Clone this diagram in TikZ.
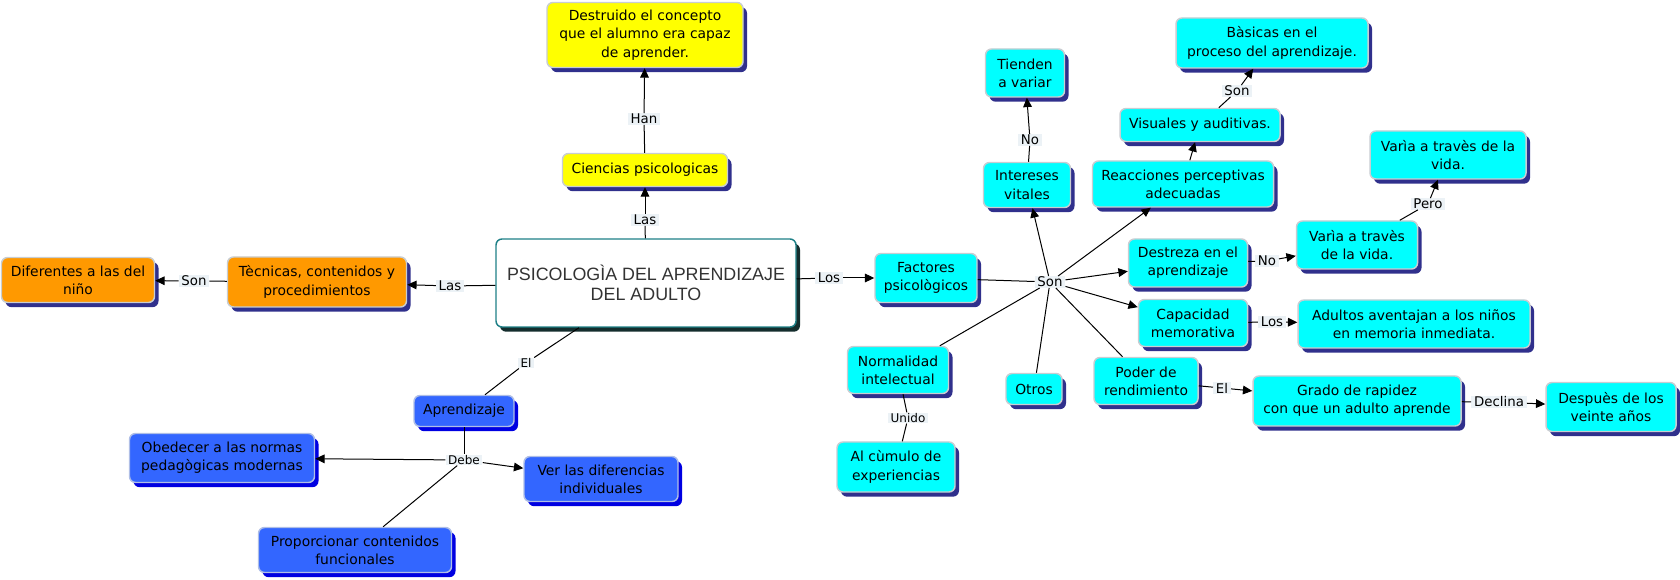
\documentclass[tikz,border=0pt]{standalone}
\usepackage{fontspec}
\newfontfamily\dvs{DejaVu Sans}
\newfontfamily\lib{Liberation Sans}
\usetikzlibrary{shadows,arrows.meta}
\definecolor{cyel}{RGB}{255,255,0}
\definecolor{corg}{RGB}{255,153,0}
\definecolor{cblu}{RGB}{51,102,255}
\definecolor{ccya}{RGB}{0,255,255}
\definecolor{cnavy}{RGB}{48,48,140}
\definecolor{cdblue}{RGB}{0,0,225}
\definecolor{cteal}{RGB}{30,128,135}
\definecolor{cdteal}{RGB}{20,45,45}
\definecolor{cbord}{RGB}{200,205,210}
\definecolor{cbordb}{RGB}{175,190,230}
\definecolor{clab}{RGB}{236,242,246}
\definecolor{ctxt}{RGB}{51,51,51}
\tikzset{
	box/.style={rectangle,rounded corners=4.5pt,line width=1.1pt,draw=cbord,align=center,inner sep=2pt,
		font=\dvs\fontsize{10.4}{13.7}\selectfont,
		drop shadow={shadow xshift=3pt,shadow yshift=-3.5pt,fill=#1,opacity=1}},
	box/.default=cnavy,
	ybox/.style={box,fill=cyel},
	obox/.style={box,fill=corg},
	bbox/.style={box=cdblue,fill=cblu,draw=cbordb},
	cbox/.style={box,fill=ccya},
	mainbox/.style={box=cdteal,fill=white,draw=cteal,text=ctxt,font=\lib\fontsize{13.4}{14.8}\selectfont},
	lab/.style={fill=clab,inner xsep=2pt,inner ysep=0.5pt,font=\dvs\fontsize{10}{12}\selectfont},
	slab/.style={lab,font=\dvs\fontsize{9}{11}\selectfont},
	sz/.style 2 args={minimum width=#1*0.75pt,minimum height=#2*0.75pt},
	>={Triangle[length=7pt,width=6.5pt]}
}
\begin{document}
\begin{tikzpicture}[x=0.75pt,y=-0.75pt,every edge/.style={draw,line width=0.75pt}]
		\useasboundingbox (0,0) rectangle (1680,580);
		% conceptos
		\node[mainbox,sz={300}{88}] (A) at (646,283) {PSICOLOGÌA DEL APRENDIZAJE\\DEL ADULTO};
		\node[ybox,sz={165}{33}] (B) at (645,170) {Ciencias psicologicas};
		\node[ybox,sz={196}{65}] (C) at (645,35) {Destruido el concepto\\que el alumno era capaz\\de aprender.};
		\node[obox,sz={179}{50}] (D) at (317,282) {Tècnicas, contenidos y\\procedimientos};
		\node[obox,sz={153}{45}] (E) at (78,280) {Diferentes a las del\\niño};
		\node[bbox,sz={100}{31}] (F) at (464,411) {Aprendizaje};
		\node[bbox,sz={185}{49}] (G) at (222,458) {Obedecer a las normas\\pedagògicas modernas};
		\node[bbox,sz={154}{45}] (H) at (601,479) {Ver las diferencias\\individuales};
		\node[bbox,sz={193}{45}] (I) at (355,550) {Proporcionar contenidos\\funcionales};
		\node[cbox,sz={102}{49}] (J) at (926,278) {Factores\\psicològicos};
		\node[cbox,sz={87}{45}] (K) at (1027,185) {Intereses\\vitales};
		\node[cbox,sz={79}{48}] (L) at (1025,73) {Tienden\\a variar};
		\node[cbox,sz={181}{46}] (M) at (1183,184) {Reacciones perceptivas\\adecuadas};
		\node[cbox,sz={160}{33}] (N) at (1200,125) {Visuales y auditivas.};
		\node[cbox,sz={192}{50}] (O) at (1272,43) {Bàsicas en el\\proceso del aprendizaje.};
		\node[cbox,sz={119}{48}] (P) at (1188,263) {Destreza en el\\aprendizaje};
		\node[cbox,sz={121}{48}] (Q) at (1357,245) {Varìa a travès\\de la vida.};
		\node[cbox,sz={156}{48}] (R) at (1448,155) {Varìa a travès de la\\vida.};
		\node[cbox,sz={109}{47}] (S) at (1193,323) {Capacidad\\memorativa};
		\node[cbox,sz={232}{48}] (T) at (1414,324) {Adultos aventajan a los niños\\en memoria inmediata.};
		\node[cbox,sz={101}{47}] (U) at (898,370) {Normalidad\\intelectual};
		\node[cbox,sz={118}{50}] (V) at (896,467) {Al cùmulo de\\experiencias};
		\node[cbox,sz={56}{31}] (W) at (1034,389) {Otros};
		\node[cbox,sz={104}{47}] (X) at (1146,381) {Poder de\\rendimiento};
		\node[cbox,sz={208}{50}] (Y) at (1357,401) {Grado de rapidez\\con que un adulto aprende};
		\node[cbox,sz={130}{49}] (Z) at (1611,407) {Despuès de los\\veinte años};
		
		% palabras de enlace
		\node[lab] (a) at (645,220) {Las};
		\node[lab] (b) at (644,119) {Han};
		\node[lab] (c) at (450,286) {Las};
		\node[lab] (d) at (194,281) {Son};
		\node[lab] (e) at (829,278) {Los};
		\node[slab] (f) at (526,363) {El};
		\node[slab] (g) at (464,460) {Debe};
		\node[lab] (h) at (1050,282) {Son};
		\node[lab] (i) at (1030,140) {No};
		\node[lab] (j) at (1237,91) {Son};
		\node[lab] (k) at (1267,261) {No};
		\node[lab] (l) at (1428,204) {Pero};
		\node[lab] (m) at (1272,322) {Los};
		\node[slab] (n) at (908,418) {Unido};
		\node[lab] (o) at (1222,388) {El};
		\node[lab] (p) at (1499,402) {Declina};
		
		\path (A) edge (a);
		\path (a) edge[->] (B);
		\path (B) edge (b);
		\path (b) edge[->] (C);
		\path (A) edge (c);
		\path (c) edge[->] (D);
		\path (D) edge (d);
		\path (d) edge[->] (E);
		\path (A) edge (e);
		\path (e) edge[->] (J);
		\path (A) edge (f);
		\path (f) edge (F);
		\path (F) edge (g);
		\path (g) edge[->] (G);
		\path (g) edge[->] (H);
		\path (g) edge (I);
		
		\path (J) edge (h);
		\path (h) edge[->] (K);
		\path (h) edge[->] (M);
		\path (h) edge[->] (P);
		\path (h) edge[->] (S);
		\path (h) edge (U);
		\path (h) edge (W);
		\path (h) edge (X);
		\path (K) edge (i);
		\path (i) edge[->] (L);
		\path (M) edge[->] (N);
		\path (N) edge (j);
		\path (j) edge[->] (O);
		\path (P) edge (k);
		\path (k) edge[->] (Q);
		\path (Q) edge (l);
		\path (l) edge[->] (R);
		\path (S) edge (m);
		\path (m) edge[->] (T);
		\path (U) edge (n);
		\path (n) edge (V);
		\path (X) edge (o);
		\path (o) edge[->] (Y);
		\path (Y) edge (p);
		\path (p) edge[->] (Z);
		
\end{tikzpicture}
\end{document}
